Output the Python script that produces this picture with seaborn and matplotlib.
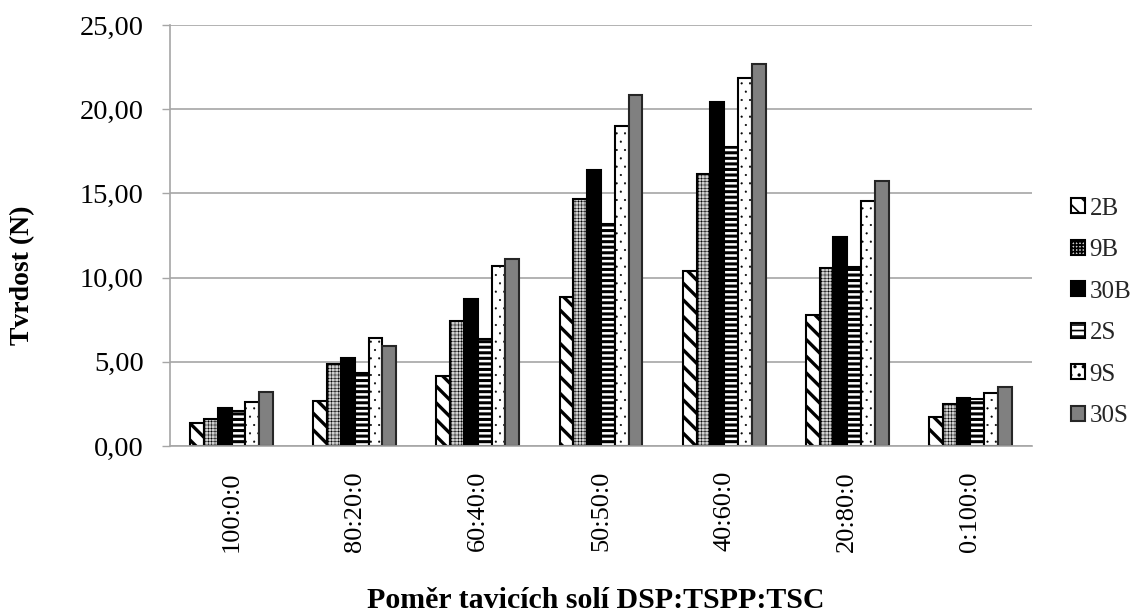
import numpy as np
import pandas as pd
import matplotlib
matplotlib.use("Agg")
import matplotlib.pyplot as plt
from matplotlib.ticker import FuncFormatter, MultipleLocator
import seaborn as sns

# ---- data ----
ratios = ["100:0:0", "80:20:0", "60:40:0", "50:50:0", "40:60:0", "20:80:0", "0:100:0"]
samples = ["2B", "9B", "30B", "2S", "9S", "30S"]
v_2B = [1.35, 2.69, 4.17, 8.83, 10.39, 7.76, 1.70]
v_9B = [1.62, 4.87, 7.44, 14.65, 16.13, 10.59, 2.48]
v_30B = [2.28, 5.24, 8.71, 16.39, 20.41, 12.43, 2.87]
v_2S = [2.06, 4.32, 6.34, 13.17, 17.77, 10.65, 2.77]
v_9S = [2.62, 6.41, 10.67, 19.02, 21.87, 14.55, 3.17]
v_30S = [3.21, 5.94, 11.09, 20.83, 22.67, 15.74, 3.49]
y_ticks = [0, 5, 10, 15, 20, 25]
xlabel = "Poměr tavicích solí DSP:TSPP:TSC"
ylabel = "Tvrdost (N)"

series = {"2B": v_2B, "9B": v_9B, "30B": v_30B, "2S": v_2S, "9S": v_9S, "30S": v_30S}
df = pd.DataFrame([
    {"ratio": r, "sample": s, "value": series[s][i]}
    for s in samples for i, r in enumerate(ratios)
])

# ---- style ----
sns.set_theme(style="white")
plt.rcParams["font.family"] = ["Liberation Serif", "DejaVu Serif"]
plt.rcParams["hatch.linewidth"] = 1.2

facecolors = {"2B": "white", "9B": "#cfcfcf", "30B": "black",
              "2S": "white", "9S": "white", "30S": "#808080"}
hatches = {"2B": "\\\\", "9B": "+++++", "30B": "", "2S": "---", "9S": "..", "30S": ""}
hatch_lw = {"2B": 2.4, "9B": 0.35, "30B": 1.0, "2S": 2.2, "9S": 0.3, "30S": 1.0}

fig = plt.figure(figsize=(11.41, 6.15), dpi=100)
ax = fig.add_axes([170 / 1141, 1 - 446 / 615, (1032 - 170) / 1141, (446 - 25) / 615])

sns.barplot(data=df, x="ratio", y="value", hue="sample", order=ratios, hue_order=samples,
            palette=facecolors, edgecolor="black", linewidth=1.5, width=0.673,
            saturation=1, legend=False, ax=ax, errorbar=None)

for cont, s in zip(ax.containers, samples):
    for p in cont.patches:
        p.set_hatch(hatches[s])
        p.set_facecolor(facecolors[s])
        if s == "30S":
            p.set_edgecolor("#262626")
        if hasattr(p, "set_hatch_linewidth"):
            p.set_hatch_linewidth(hatch_lw[s])

# axes styling
grid_c = "#a6a6a6"
ax.set_ylim(0, 25)
ax.yaxis.set_major_locator(MultipleLocator(5))
ax.yaxis.set_major_formatter(FuncFormatter(lambda v, _: f"{v:.2f}".replace(".", ",")))
ax.grid(axis="y", color=grid_c, linewidth=1.2)
ax.set_axisbelow(True)
for side in ["top", "right"]:
    ax.spines[side].set_visible(False)
for side in ["left", "bottom"]:
    ax.spines[side].set_color(grid_c)
    ax.spines[side].set_linewidth(1.2)

ax.tick_params(axis="y", which="major", left=True, length=6, width=1.0, color=grid_c,
               pad=13, labelsize=20.5, labelcolor="black")
ax.tick_params(axis="x", bottom=False, pad=12, labelsize=19, labelcolor="black")
for lab in ax.get_xticklabels():
    lab.set_rotation(90)
    lab.set_va("top")
    lab.set_ha("center")

ax.set_xlabel(xlabel, fontsize=21.5, fontweight="bold", color="black")
ax.set_ylabel(ylabel, fontsize=20, fontweight="bold", color="black")
ax.xaxis.label.set_va("center")
ax.yaxis.label.set_va("center")
ax.xaxis.set_label_coords(0.4936, -0.366)
ax.yaxis.set_label_coords(-0.1705, 0.406)

leg = ax.legend(ax.containers, samples, loc="center left",
                bbox_to_anchor=(1071 / 1141, 1 - 312.5 / 615), bbox_transform=fig.transFigure,
                frameon=False, fontsize=18, handlelength=0.55, handleheight=0.55,
                handletextpad=0.2, labelspacing=0.78, borderpad=0, borderaxespad=0)

fig.savefig("out.png", dpi=100)
